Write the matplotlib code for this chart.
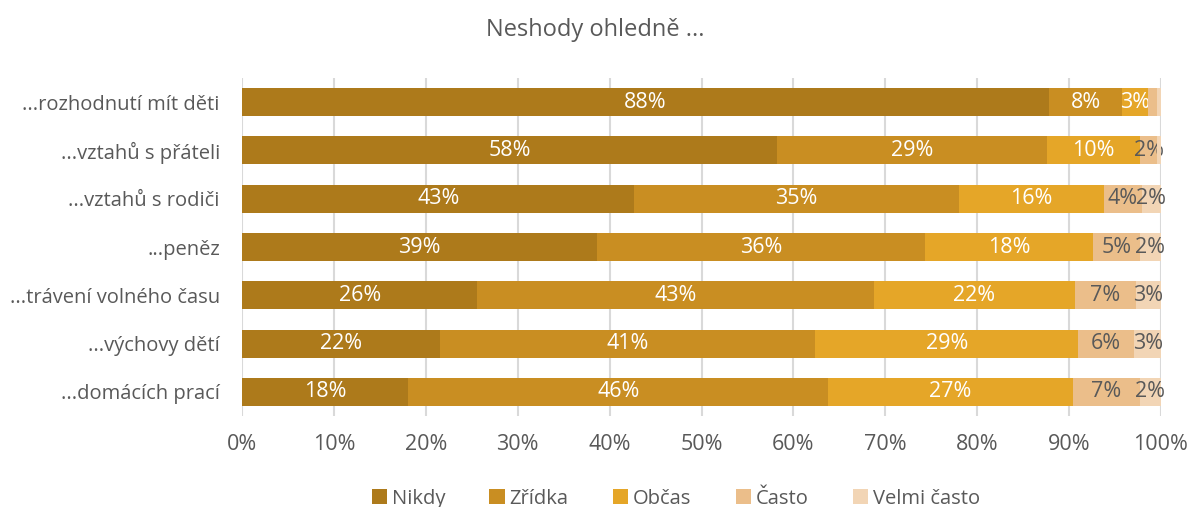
import matplotlib.pyplot as plt
import numpy as np

plt.rcParams['font.family'] = ['Open Sans', 'DejaVu Sans']

# data (in %)
categories = ["...rozhodnutí mít děti", "...vztahů s přáteli", "...vztahů s rodiči",
              "...peněz", "...trávení volného času", "...výchovy dětí", "...domácích prací"]
series = ["Nikdy", "Zřídka", "Občas", "Často", "Velmi často"]
nikdy = [87.8, 58.2, 42.7, 38.6, 25.6, 21.5, 18.1]
zridka = [8.0, 29.4, 35.3, 35.7, 43.2, 40.9, 45.7]
obcas = [2.8, 10.1, 15.8, 18.3, 21.8, 28.6, 26.6]
casto = [1.0, 1.9, 4.1, 5.1, 6.7, 6.1, 7.3]
velmi = [0.4, 0.4, 2.1, 2.3, 2.7, 2.9, 2.3]

colors = ['#AD7A1B', '#C98E22', '#E5A628', '#EBBE8A', '#F2D5B5']
label_colors = ['white', 'white', 'white', '#595959', '#595959']
gray = '#595959'

fig = plt.figure(figsize=(11.9, 5.07), dpi=100)
ax = fig.add_axes([0.2034, 0.1795, 0.7722, 0.6665])

y = np.arange(len(categories))
left = np.zeros(len(categories))
for vals, name, col, lc in zip([nikdy, zridka, obcas, casto, velmi], series, colors, label_colors):
    vals = np.array(vals)
    bars = ax.barh(y, vals, left=left, height=0.58, color=col, label=name, zorder=3)
    # segments under 2 % get no label, like in the original
    labels = [f"{round(v):.0f}%" if round(v) >= 2 else "" for v in vals]
    ax.bar_label(bars, labels=labels, label_type='center', color=lc, fontsize=15.5)
    left += vals

ax.set_xlim(0, 100)
ax.set_ylim(len(categories) - 0.5, -0.5)
ax.set_yticks(y)
ax.set_yticklabels(categories, fontsize=14.5, color=gray)
ax.set_xticks(np.arange(0, 101, 10))
ax.set_xticklabels([f"{t}%" for t in range(0, 101, 10)], fontsize=15.5, color=gray)
ax.tick_params(length=0)
ax.tick_params(axis='x', pad=13)
ax.tick_params(axis='y', pad=16)
ax.grid(axis='x', color='#D9D9D9', linewidth=1.5, zorder=0)
for s in ax.spines.values():
    s.set_visible(False)

fig.text(0.5, 0.94, "Neshody ohledně ...", ha='center', va='center', fontsize=17, color=gray)

fig.legend(loc='center', bbox_to_anchor=(0.568, 0.016), ncol=5, frameon=False,
           fontsize=14.5, labelcolor=gray, handlelength=0.75, handleheight=0.75,
           handletextpad=0.25, columnspacing=2.2)

fig.savefig("out.png", dpi=100)
